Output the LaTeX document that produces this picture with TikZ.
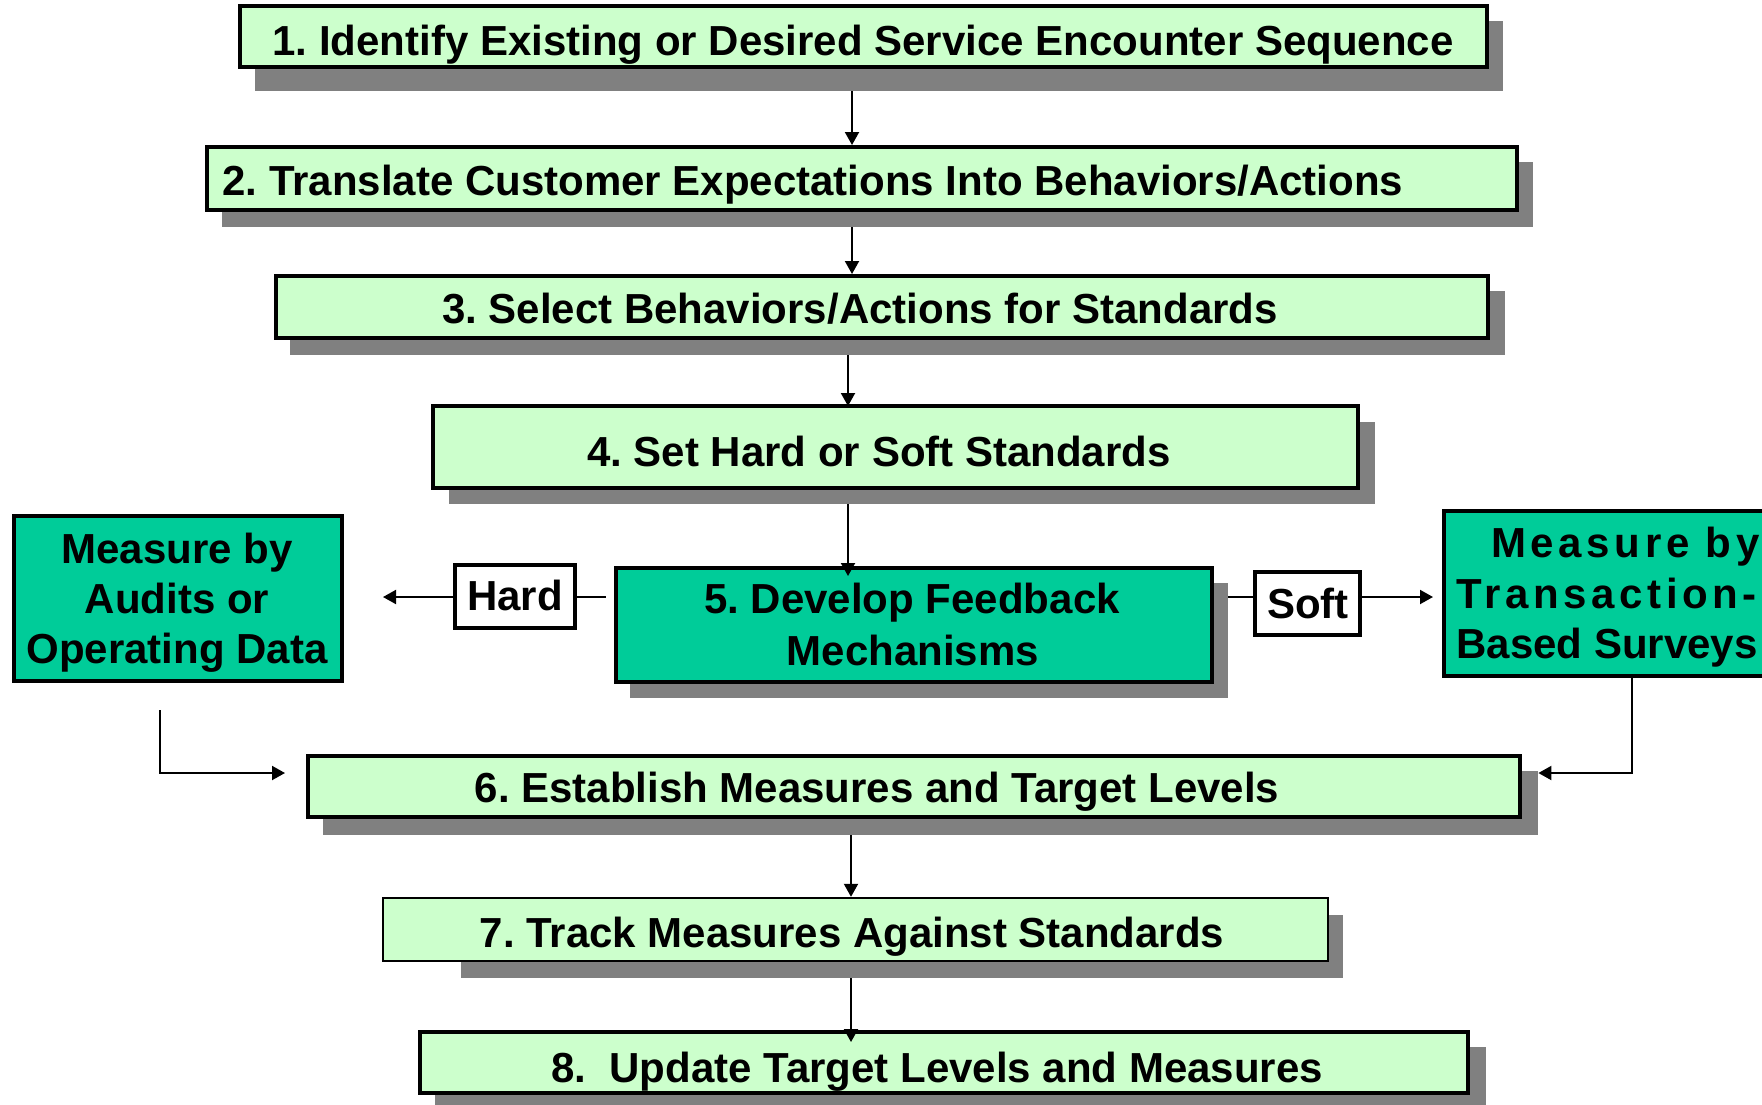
\documentclass[tikz,border=0pt]{standalone}
\usepackage{fontspec}
\setmainfont{Liberation Sans}
\usetikzlibrary{arrows.meta,fit,calc}
\definecolor{lightbox}{HTML}{CCFFCC}
\definecolor{darkbox}{HTML}{00CC99}
\definecolor{shadowgray}{HTML}{808080}
\frenchspacing

\begin{document}
\begin{tikzpicture}[x=0.5pt,y=-0.5pt,
  stepbox/.style={draw=black,line width=2pt,fill=lightbox,inner sep=0pt},
  thinbox/.style={stepbox,line width=1.2pt},
  darkstep/.style={stepbox,fill=darkbox},
  measurebox/.style={stepbox,fill=darkbox},
  tagbox/.style={stepbox,fill=white},
  shade/.style={fill=shadowgray,draw=none,inner sep=0pt},
  txt/.style={font=\bfseries\fontsize{21}{25}\selectfont,inner sep=0pt,anchor=base},
  ltxt/.style={txt,anchor=base west},
  conn/.style={draw=black,line width=1pt,-{Triangle[length=6.5pt,width=7pt]}},
  plain/.style={draw=black,line width=1pt}
]
\useasboundingbox (0,0) rectangle (1762,1104);
\clip (0,0) rectangle (1762,1104);

% drop shadows
\node[shade,fit={(255,21) (1503,91)}] (sh1) {};
\node[shade,fit={(222,162) (1533,227)}] (sh2) {};
\node[shade,fit={(290,291) (1505,355)}] (sh3) {};
\node[shade,fit={(449,422) (1375,504)}] (sh4) {};
\node[shade,fit={(630,583) (1228,698)}] (sh5) {};
\node[shade,fit={(323,771) (1538,835)}] (sh6) {};
\node[shade,fit={(461,915) (1343,978)}] (sh7) {};
\node[shade,fit={(435,1047) (1486,1112)}] (sh8) {};

% step boxes
\node[stepbox,fit={(240,6) (1487,67)}] (b1) {};
\node[stepbox,fit={(207,147) (1517,210)}] (b2) {};
\node[stepbox,fit={(276,276) (1488,338)}] (b3) {};
\node[stepbox,fit={(433,406) (1358,488)}] (b4) {};
\node[darkstep,fit={(616,568) (1212,682)}] (b5) {};
\node[stepbox,fit={(308,756) (1520,817)}] (b6) {};
\node[thinbox,fit={(383,898) (1328,961)}] (b7) {};
\node[stepbox,fit={(420,1032) (1468,1093)}] (b8) {};

% measurement boxes and tags
\node[measurebox,fit={(14,516) (342,681)}] (mL) {};
\node[measurebox,fit={(1444,511) (1820,676)}] (mR) {};
\node[tagbox,fit={(455,565) (575,628)}] (hard) {};
\node[tagbox,fit={(1255,572) (1360,635)}] (soft) {};

% labels
\node[txt] (t1) at (863,55) {1. Identify Existing or Desired Service Encounter Sequence};
\node[ltxt] (t2) at (222,195) {2. Translate Customer Expectations Into Behaviors/Actions};
\node[txt] (t3) at (860,323) {3. Select Behaviors/Actions for Standards};
\node[txt] (t4) at (879,466) {4. Set Hard or Soft Standards};
\node[txt] (t5a) at (912,613) {5. Develop Feedback};
\node[txt] (t5b) at (913,665) {Mechanisms};
\node[txt] (t6) at (877,802) {6. Establish Measures and Target Levels};
\node[txt] (t7) at (852,947) {7. Track Measures Against Standards};
\node[txt] (t8) at (937,1082) {8.~~Update Target Levels and Measures};
\node[txt] (th) at (515,610) {Hard};
\node[txt] (ts) at (1308,618) {Soft};
\node[txt] (tL1) at (177,563) {Measure by};
\node[txt] (tL2) at (177,613) {Audits or};
\node[txt] (tL3) at (177,663) {Operating Data};
\node[ltxt] (tR1) at (1491,557) {\addfontfeature{LetterSpace=11}Measure by};
\node[ltxt] (tR2) at (1456,608) {\addfontfeature{LetterSpace=11}Transaction-};
\node[ltxt] (tR3) at (1456,658) {Based Surveys};

% connector columns and rows
\coordinate (colA) at (852,0);
\coordinate (colB) at (848,0);
\coordinate (colC) at (851,0);
\coordinate (colR) at (1632,0);
\coordinate (fb) at (0,597);
\coordinate (hardtip) at (383,597);
\coordinate (lstart) at (160,710);
\coordinate (lend) at (285,773);

% main sequence
\draw[conn] (sh1.south -| colA) -- (b2.north -| colA);
\draw[conn] (sh2.south -| colA) -- (b3.north -| colA);
\draw[conn] (sh3.south -| colB) -- ([yshift=-1pt]b4.north -| colB);
\draw[conn] (sh4.south -| colB) -- ([yshift=-5pt]b5.north -| colB);
\draw[conn] (sh6.south -| colC) -- (b7.north -| colC);
\draw[conn] (sh7.south -| colC) -- ([yshift=-6pt]b8.north -| colC);

% hard / soft branches
\draw[plain] (hard.east |- fb) -- ([xshift=-4pt]b5.west |- fb);
\draw[conn] (hard.west |- fb) -- (hardtip);
\draw[plain] (sh5.east |- fb) -- (soft.west |- fb);
\draw[conn] (soft.east |- fb) -- ([xshift=-4.5pt]mR.west |- fb);

% returns to step 6
\draw[conn] (lstart) |- (lend);
\draw[conn] (mR.south -| colR) |- (sh6.east |- lend);
\end{tikzpicture}
\end{document}
